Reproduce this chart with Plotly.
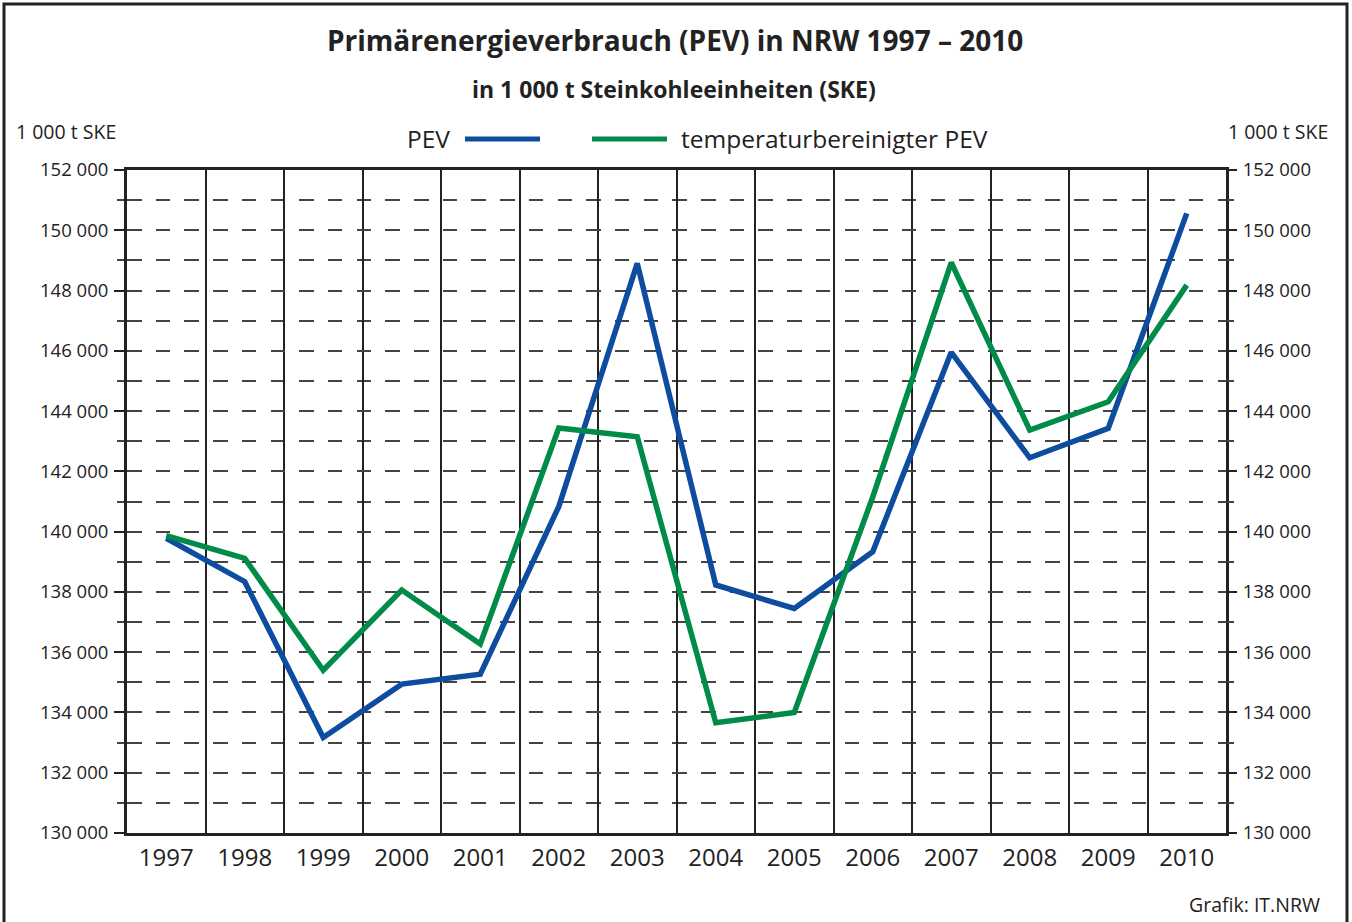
import plotly.graph_objects as go

years = ["1997", "1998", "1999", "2000", "2001", "2002", "2003",
         "2004", "2005", "2006", "2007", "2008", "2009", "2010"]
pev = [139780, 138340, 133170, 134940, 135270, 140830, 148900,
       138230, 137450, 139330, 145950, 142450, 143430, 150560]
pev_temp = [139870, 139110, 135400, 138060, 136270, 143440, 143150,
            133660, 134000, 141150, 148930, 143370, 144310, 148180]
y_ticks = list(range(130000, 152001, 2000))
y_ticktext = [f"{v:,}".replace(",", " ") for v in y_ticks]

BLUE = "#0E4C9F"
GREEN = "#008C48"
INK = "#222222"
FONT = "Open Sans"

W, H = 1352, 922
L, R, T, B = 127, 1226, 170, 833


def px(x):
    return (x - L) / (R - L)


def py(y):
    return (B - y) / (B - T)


fig = go.Figure()
fig.add_trace(go.Scatter(x=years, y=pev, mode="lines", name="PEV",
                         line=dict(color=BLUE, width=5.5), showlegend=False))
fig.add_trace(go.Scatter(x=years, y=pev_temp, mode="lines",
                         name="temperaturbereinigter PEV",
                         line=dict(color=GREEN, width=5.5), showlegend=False))
# invisible companion so the right-hand axis is drawn
fig.add_trace(go.Scatter(x=years, y=pev, mode="lines", yaxis="y2",
                         line=dict(width=0), opacity=0, hoverinfo="skip",
                         showlegend=False))

dash = "14.5px,14.2px"
yaxis_common = dict(
    range=[130000, 152000],
    tickvals=y_ticks, ticktext=y_ticktext,
    ticks="outside", ticklen=10, tickwidth=2, tickcolor=INK,
    tickfont=dict(family=FONT, size=18.5, color=INK),
    minor=dict(dtick=1000, tick0=130000, ticks="outside", ticklen=7,
               tickwidth=2, tickcolor="#444444",
               showgrid=True, gridcolor="#444444", gridwidth=2, griddash=dash),
    showgrid=True, gridcolor="#444444", gridwidth=2, griddash=dash,
    zeroline=False, fixedrange=True,
    ticklabelstandoff=2,
)

fig.update_layout(
    width=W, height=H,
    margin=dict(l=L, r=W - R, t=T, b=H - B, pad=0),
    paper_bgcolor="white", plot_bgcolor="white",
    font=dict(family=FONT, color=INK),
    showlegend=False,
    xaxis=dict(
        type="category", tickson="boundaries", showgrid=True,
        gridcolor=INK, gridwidth=2, ticks="", showline=True,
        linecolor=INK, linewidth=3, mirror=True,
        tickfont=dict(family=FONT, size=24, color=INK),
        ticklabelstandoff=1,
        range=[-0.5, 13.5], fixedrange=True,
    ),
    yaxis=dict(**yaxis_common, showline=True, linecolor=INK, linewidth=3,
               mirror=True, side="left"),
    yaxis2=dict(**yaxis_common, overlaying="y", side="right", anchor="x",
                showline=False),
)
fig.update_layout(yaxis2=dict(showgrid=False, minor=dict(showgrid=False)))

annotations = [
    dict(text="<b>Primärenergieverbrauch (PEV) in NRW 1997 – 2010</b>",
         x=px(675), y=py(40), size=28),
    dict(text="<b>in 1 000 t Steinkohleeinheiten (SKE)</b>",
         x=px(674), y=py(89), size=23),
    dict(text="1 000 t SKE", x=px(14), y=py(131), size=19.5, xanchor="left"),
    dict(text="1 000 t SKE", x=px(1330), y=py(131), size=19.5, xanchor="right"),
    dict(text="PEV", x=px(452), y=py(139), size=24.5, xanchor="right"),
    dict(text="temperaturbereinigter PEV", x=px(679), y=py(139), size=24.5,
         xanchor="left"),
    dict(text="Grafik: IT.NRW", x=px(1322), y=py(904), size=19.5,
         xanchor="right"),
]
for a in annotations:
    fig.add_annotation(
        text=a["text"], x=a["x"], y=a["y"], xref="paper", yref="paper",
        xanchor=a.get("xanchor", "center"), yanchor="middle",
        showarrow=False, font=dict(family=FONT, size=a["size"], color=INK),
    )

# legend swatches
fig.add_shape(type="line", xref="paper", yref="paper",
              x0=px(465), x1=px(540), y0=py(139), y1=py(139),
              line=dict(color=BLUE, width=5))
fig.add_shape(type="line", xref="paper", yref="paper",
              x0=px(592), x1=px(667), y0=py(139), y1=py(139),
              line=dict(color=GREEN, width=5))
# outer frame
fig.add_shape(type="rect", xref="paper", yref="paper",
              x0=px(4), x1=px(1347), y0=py(1100), y1=py(4),
              line=dict(color=INK, width=3), layer="above")

fig.write_html(
    "out.html",
    config={"displayModeBar": False, "staticPlot": True},
    post_script="document.body.style.margin='0';"
                "document.body.style.overflow='hidden';",
)
